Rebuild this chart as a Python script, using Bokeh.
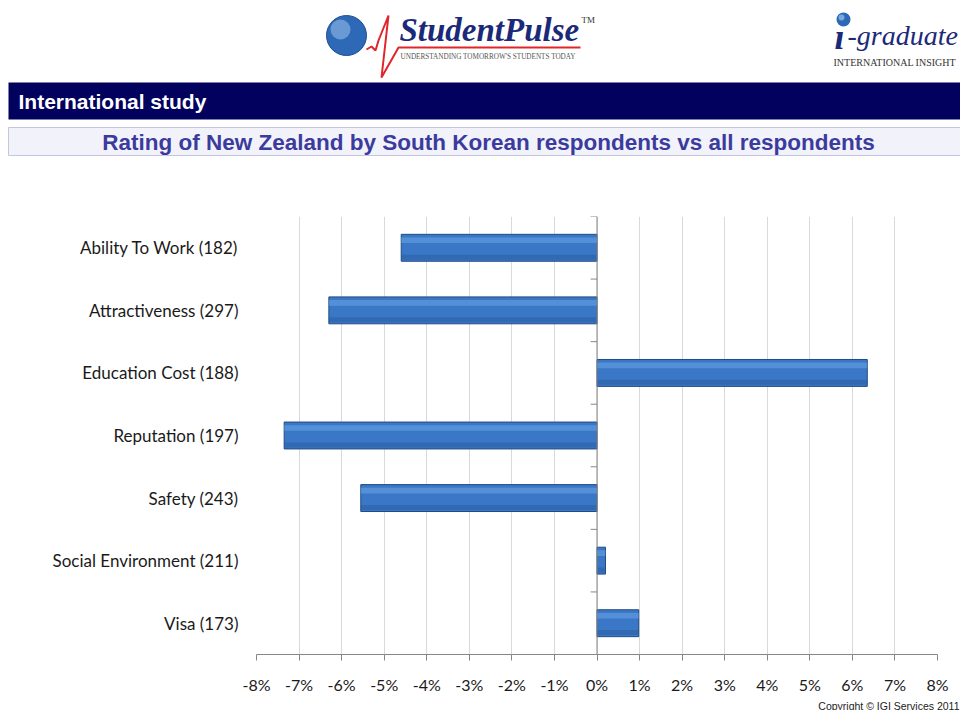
from bokeh.plotting import figure
from bokeh.models import Range1d, FactorRange, FixedTicker, Span, ColumnDataSource
from bokeh.layouts import column
from bokeh.transform import dodge
from bokeh.core.properties import value
from bokeh.embed import file_html
from bokeh.resources import INLINE

categories = ["Ability To Work (182)", "Attractiveness (297)", "Education Cost (188)",
              "Reputation (197)", "Safety (243)", "Social Environment (211)", "Visa (173)"]
differences = [-4.6, -6.3, 6.35, -7.35, -5.55, 0.2, 0.98]
tick_values = list(range(-8, 9))
tick_labels = [f"{t}%" for t in tick_values]
header_text = "International study"
chart_title = "Rating of New Zealand by South Korean respondents vs all respondents"
copyright_text = "Copyright \u00a9 IGI Services 2011"

W = 960
HEAD_H = 158
CHART_H = 540
FOOT_H = 12

def blank(height):
    f = figure(width=W, height=height, x_range=Range1d(0, W), y_range=Range1d(height, 0),
               toolbar_location=None, output_backend="svg", min_border=0,
               min_border_left=0, min_border_right=0, min_border_top=0, min_border_bottom=0,
               x_axis_location=None, y_axis_location=None)
    f.grid.visible = False
    f.outline_line_color = None
    f.frame_align = False
    return f

# ---------------- header (page-pixel coordinates) ----------------
head = blank(HEAD_H)

# StudentPulse logo
head.circle(x=[346], y=[35], radius=20, fill_color="#2d69b6", line_color="#1d4f91")
head.circle(x=[340], y=[29], radius=10, fill_color="#9cc2ec", line_color=None, fill_alpha=0.55)
head.line(x=[366, 371, 375, 378, 388, 381, 398, 580], y=[49, 46, 50, 40, 15, 77, 47, 47],
          line_color="#e0262b", line_width=2)
head.text(x=[399], y=[29], text=["StudentPulse"], text_font=value("Liberation Serif"),
          text_font_style="bold italic", text_font_size="33px", text_color="#1b2a78",
          text_baseline="middle")
head.text(x=[581], y=[19], text=["TM"], text_font=value("Liberation Serif"),
          text_font_size="9px", text_color="#333333", text_baseline="middle")
head.text(x=[400], y=[56], text=["UNDERSTANDING TOMORROW'S STUDENTS TODAY"], text_font=value("Liberation Serif"),
          text_font_size="7.2px", text_color="#555555", text_baseline="middle")

# i-graduate logo
head.circle(x=[843], y=[19], radius=7, fill_color="#2d69b6", line_color=None)
head.circle(x=[841], y=[17], radius=3, fill_color="#9cc2ec", line_color=None, fill_alpha=0.7)
head.text(x=[834], y=[36], text=["\u0131"], text_font=value("Liberation Serif"),
          text_font_style="bold italic", text_font_size="36px", text_color="#1b2a78",
          text_baseline="middle")
head.text(x=[847], y=[35], text=["-graduate"], text_font=value("Liberation Serif"),
          text_font_style="italic", text_font_size="28px", text_color="#1b2a78",
          text_baseline="middle")
head.text(x=[833], y=[62], text=["INTERNATIONAL INSIGHT"], text_font=value("Liberation Serif"),
          text_font_size="10px", text_color="#333333", text_baseline="middle")

# navy band
head.quad(left=8, right=W, top=82, bottom=119, fill_color="#02025e", line_color=None)
head.text(x=[18], y=[101], text=[header_text], text_font=value("Liberation Sans"),
          text_font_style="bold", text_font_size="21px", text_color="white", text_baseline="middle")

# title box
head.quad(left=8, right=W + 2, top=127, bottom=155, fill_color="#f2f2fb", line_color="#c5c5e0")
head.text(x=[488], y=[142], text=[chart_title], text_font=value("Liberation Sans"),
          text_font_style="bold", text_font_size="22.5px", text_color="#3b3b9e",
          text_align="center", text_baseline="middle")

# ---------------- chart ----------------
p = figure(width=W, height=CHART_H, y_range=FactorRange(factors=list(reversed(categories))),
           x_range=Range1d(-8, 8), toolbar_location=None, output_backend="svg",
           min_border_left=256, min_border_right=23, min_border_top=58, min_border_bottom=44)
p.frame_align = False
p.outline_line_color = None
p.ygrid.grid_line_color = None
p.xgrid.grid_line_color = "#d9d9d9"

p.xaxis.ticker = FixedTicker(ticks=tick_values)
p.xaxis.major_label_overrides = dict(zip(tick_values, tick_labels))
p.xaxis.minor_tick_line_color = None
p.xaxis.major_tick_out = 6
p.xaxis.major_tick_in = 0
p.xaxis.axis_line_color = "#878787"
p.xaxis.major_tick_line_color = "#878787"
p.xaxis.major_label_text_font = "Lato"
p.xaxis.major_label_text_font_size = "16px"
p.xaxis.major_label_text_color = "#1a1a1a"
p.xaxis.major_label_standoff = 14

p.yaxis.axis_line_color = None
p.yaxis.major_tick_line_color = None
p.yaxis.minor_tick_line_color = None
p.yaxis.major_tick_out = 0
p.yaxis.major_label_standoff = 18
p.yaxis.major_label_text_font = "Lato"
p.yaxis.major_label_text_font_size = "17px"
p.yaxis.major_label_text_color = "#1a1a1a"

# bars with a simple 3D-like shading
src = ColumnDataSource(dict(y=categories, right=differences, left=[0] * len(categories)))
p.hbar(y="y", left="left", right="right", height=0.43, fill_color="#3a77c6",
       line_color="#214b85", source=src)
p.hbar(y=dodge("y", 0.12, range=p.y_range), left="left", right="right", height=0.09,
       fill_color="#6aa6e8", fill_alpha=0.55, line_color=None, source=src)
p.hbar(y=dodge("y", -0.15, range=p.y_range), left="left", right="right", height=0.08,
       fill_color="#23548f", fill_alpha=0.35, line_color=None, source=src)

# central category axis at 0 with boundary ticks
p.add_layout(Span(location=0, dimension="height", line_color="#878787", line_width=1))
bounds = list(range(len(categories) + 1))
p.segment(x0=[-0.15] * len(bounds), x1=[0] * len(bounds), y0=bounds, y1=bounds, line_color="#878787")

# ---------------- footer ----------------
foot = blank(FOOT_H)
foot.text(x=[959], y=[1], text=[copyright_text], text_align="right", text_baseline="top",
          text_font=value("Liberation Sans"), text_font_size="10.5px", text_color="#222222")

layout = column(head, p, foot)
open("out.html", "w").write(file_html(layout, INLINE))
